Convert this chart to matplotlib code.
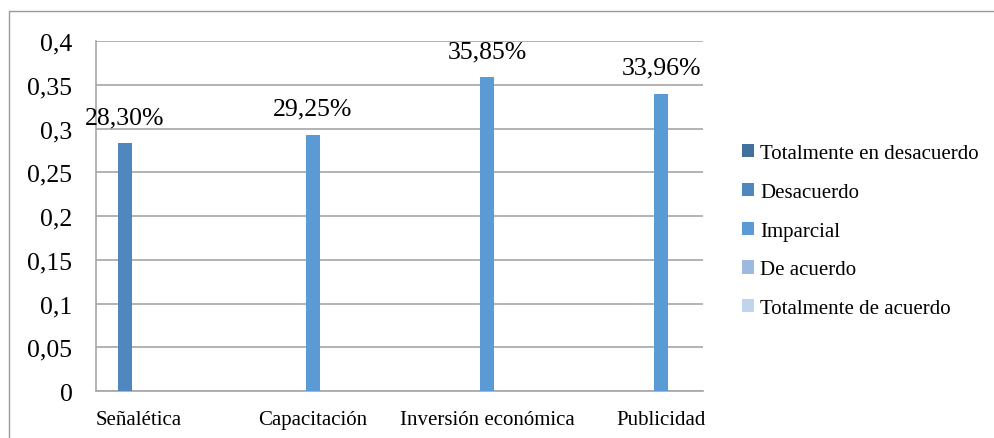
import numpy as np
import matplotlib
matplotlib.use("Agg")
from matplotlib import pyplot as plt
from matplotlib.patches import Rectangle

categories = ["Señalética", "Capacitación", "Inversión económica", "Publicidad"]
series_names = ["Totalmente en desacuerdo", "Desacuerdo", "Imparcial",
                "De acuerdo", "Totalmente de acuerdo"]
tot_desacuerdo = [0, 0, 0, 0]
desacuerdo = [0.2830, 0, 0, 0]
imparcial = [0, 0.2925, 0.3585, 0.3396]
de_acuerdo = [0, 0, 0, 0]
tot_acuerdo = [0, 0, 0, 0]
yticks = [0, 0.05, 0.1, 0.15, 0.2, 0.25, 0.3, 0.35, 0.4]

colors = ["#41719C", "#4F87BE", "#5B9BD5", "#9DB9DF", "#BFD5EC"]
all_series = [tot_desacuerdo, desacuerdo, imparcial, de_acuerdo, tot_acuerdo]

plt.rcParams['font.family'] = ['Liberation Serif', 'DejaVu Serif']

fig = plt.figure(figsize=(9.95, 4.39), dpi=100)
ax = fig.add_axes([0.0965, 0.107, 0.61, 0.797])

# outer chart frame (cut off at right and bottom in the original)
fig.patches.append(Rectangle((9 / 995, -0.1), 1.2, 1 - 12 / 439 + 0.1,
                             transform=fig.transFigure, fill=False,
                             edgecolor="#9a9a9a", linewidth=1.0))

x = np.arange(len(categories))
w = 0.08
for i, (name, vals) in enumerate(zip(series_names, all_series)):
    bars = ax.bar(x + (i - 2) * w, vals, width=w, color=colors[i], label=name, zorder=3)
    for b, v in zip(bars, vals):
        if v > 0:
            ax.annotate(f"{v * 100:.2f}%".replace(".", ","),
                        (b.get_x() + b.get_width() / 2, v),
                        xytext=(0, 19), textcoords="offset points",
                        ha="center", va="center", fontsize=18.5)

ax.set_xlim(-0.244, 3.239)
ax.set_ylim(0, 0.4)
ax.set_yticks(yticks)
ax.set_yticklabels([f"{t:g}".replace(".", ",") for t in yticks], fontsize=18.5)
ax.set_xticks(x)
ax.set_xticklabels(categories, fontsize=15)
ax.tick_params(axis="y", length=0, pad=17)
ax.tick_params(axis="x", length=0, pad=14)
ax.grid(axis="y", color="#a6a6a6", linewidth=1.2, zorder=0)
for s in ["top", "right"]:
    ax.spines[s].set_visible(False)
for s in ["left", "bottom"]:
    ax.spines[s].set_color("#a6a6a6")
    ax.spines[s].set_linewidth(1.2)

leg = ax.legend(loc="center left", bbox_to_anchor=(1.033, 0.457), frameon=False,
                fontsize=15, handlelength=0.6, handleheight=0.6,
                handletextpad=0.3, labelspacing=0.95)

fig.savefig("out.png", dpi=100)
